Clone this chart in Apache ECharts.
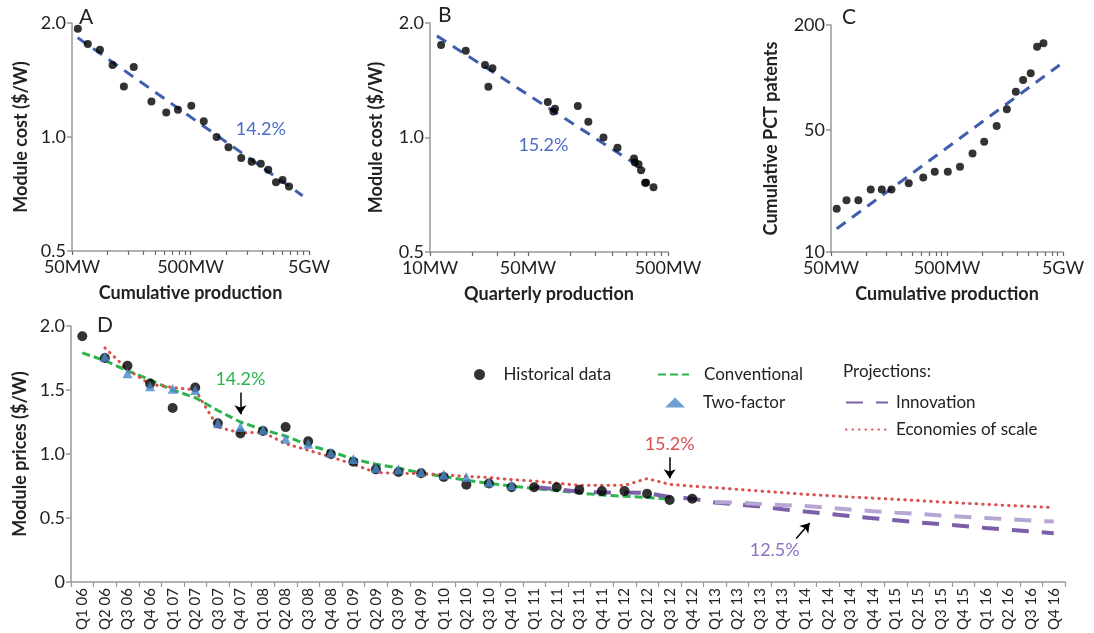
<!DOCTYPE html>
<html>
<head>
<meta charset="utf-8">
<script src="https://cdn.jsdelivr.net/npm/echarts@6/dist/echarts.min.js"></script>
<style>
  html, body { margin: 0; padding: 0; background: #fff; }
  #chart { width: 1094px; height: 633px; }
</style>
</head>
<body>
<div id="chart"></div>
<script>
// panel A / C : cumulative production (MW)
var cumProd = [56, 68, 86, 110, 137, 166, 234, 312, 392, 508, 647, 830, 1046, 1340, 1640, 1960, 2265, 2634, 2990, 3390];
var cumCost = [1.93, 1.76, 1.70, 1.55, 1.36, 1.53, 1.24, 1.16, 1.18, 1.21, 1.10, 1.00, 0.94, 0.88, 0.86, 0.85, 0.82, 0.76, 0.77, 0.74];
var cumPatents = [17.7, 19.8, 19.8, 22.8, 22.8, 22.8, 24.8, 26.7, 28.8, 28.8, 30.8, 36.7, 42.8, 52.7, 65.7, 82.9, 96.7, 105.7, 150, 157];
var fitA = [[55.7, 1.83], [4415, 0.70]];
var fitC = [[56, 13.6], [4677, 118]];

// panel B : quarterly production (MW)
var qtrProd = [12.0, 18.0, 24.7, 26.1, 27.9, 69.3, 76, 78, 113.5, 135, 173, 218, 286, 290, 308, 321, 343, 349, 394];
var qtrCost = [1.75, 1.69, 1.55, 1.36, 1.52, 1.24, 1.17, 1.19, 1.21, 1.10, 1.00, 0.94, 0.88, 0.86, 0.85, 0.82, 0.76, 0.76, 0.74];
var fitB = [[11.2, 1.85], [343, 0.82]];

// axis ticks
var mwMajor = [50, 500, 5000];
var mwMinor = [50, 100, 150, 200, 250, 300, 350, 400, 450, 500, 1000, 1500, 2000, 2500, 3000, 3500, 4000, 4500, 5000];
var qMajor = [10, 50, 500];
var qMinor = [10, 20, 30, 40, 50, 100, 150, 200, 250, 300, 350, 400, 450, 500];
var costTicks = [0.5, 1, 2];
var patentTicks = [10, 50, 200];

// panel D
var quarters = ['Q1 06','Q2 06','Q3 06','Q4 06','Q1 07','Q2 07','Q3 07','Q4 07','Q1 08','Q2 08','Q3 08','Q4 08',
  'Q1 09','Q2 09','Q3 09','Q4 09','Q1 10','Q2 10','Q3 10','Q4 10','Q1 11','Q2 11','Q3 11','Q4 11',
  'Q1 12','Q2 12','Q3 12','Q4 12','Q1 13','Q2 13','Q3 13','Q4 13','Q1 14','Q2 14','Q3 14','Q4 14',
  'Q1 15','Q2 15','Q3 15','Q4 15','Q1 16','Q2 16','Q3 16','Q4 16'];
var historical = [1.92, 1.75, 1.69, 1.55, 1.36, 1.52, 1.24, 1.16, 1.18, 1.21, 1.10, 1.00, 0.94, 0.88,
  0.86, 0.85, 0.82, 0.76, 0.77, 0.74, 0.74, 0.74, 0.72, 0.71, 0.71, 0.69, 0.64, 0.65];
var twoFactor = [null, 1.76, 1.63, 1.53, 1.51, 1.50, 1.24, 1.21, 1.19, 1.12, 1.08, 1.01, 0.96, 0.89,
  0.88, 0.86, 0.84, 0.82, 0.78, 0.755];
var conventional = [1.79, 1.73, 1.65, 1.58, 1.50, 1.44, 1.34, 1.25, 1.19, 1.14, 1.07, 1.02, 0.96, 0.92,
  0.89, 0.85, 0.825, 0.795, 0.77, 0.75, 0.73, 0.715, 0.695, 0.68, 0.67, 0.66, 0.648];
var economies = [null, 1.83, 1.66, 1.545, 1.52, 1.50, 1.21, 1.165, 1.17, 1.08, 1.03, 0.977, 0.92, 0.855,
  0.85, 0.846, 0.838, 0.825, 0.816, 0.80, 0.789, 0.772, 0.755, 0.755, 0.755, 0.808, 0.763, 0.748,
  0.737, 0.724, 0.711, 0.698, 0.685, 0.675, 0.664, 0.655, 0.646, 0.636, 0.625, 0.616, 0.607, 0.598, 0.590, 0.581];
var innovStart = 20; // Q1 11
var innovation = [0.742, 0.725, 0.706, 0.700, 0.700, 0.695, 0.665, 0.651, 0.621, 0.606, 0.589, 0.568,
  0.550, 0.533, 0.514, 0.498, 0.482, 0.466, 0.452, 0.438, 0.422, 0.408, 0.395, 0.381];
var innovHighStart = 28; // Q1 13
var innovationHigh = [0.625, 0.620, 0.610, 0.601, 0.593, 0.580, 0.566, 0.553, 0.542, 0.532, 0.520,
  0.509, 0.500, 0.490, 0.480, 0.472];

var FONT = 'Lato';
var TXT = '#222';
var AXIS = '#999';
var BLUE = '#3f5fae';
var GREEN = '#2cb44c';
var RED = '#d9504f';
var PURPLE = '#7c5ea9';

function zip(xs, ys) {
  return xs.map(function (x, i) { return [x, ys[i]]; });
}
function fromQuarter(start, vals) {
  return vals.map(function (v, i) { return [quarters[start + i], v]; });
}
function mwLabel(v) {
  return v >= 1000 ? Math.round(v / 1000) + 'GW' : Math.round(v) + 'MW';
}

function logX(grid, major, minor, name) {
  return {
    type: 'log', logBase: 10, gridIndex: grid,
    min: major[0], max: major[major.length - 1],
    name: name, nameLocation: 'middle', nameGap: 33,
    nameTextStyle: { fontFamily: FONT, fontWeight: 'bold', fontSize: 18, color: TXT },
    axisLine: { lineStyle: { color: AXIS, width: 1.5 } },
    axisTick: { customValues: minor, length: 4, lineStyle: { color: '#666', width: 1.2 } },
    minorTick: { show: false },
    axisLabel: { customValues: major, formatter: mwLabel, fontFamily: FONT, fontSize: 18, color: TXT, margin: 7 },
    splitLine: { show: false }
  };
}
function logY(grid, base, ticks, name, gap, fmt) {
  return {
    type: 'log', logBase: base, gridIndex: grid,
    min: ticks[0], max: ticks[ticks.length - 1],
    name: name, nameLocation: 'middle', nameGap: gap,
    nameTextStyle: { fontFamily: FONT, fontWeight: 'bold', fontSize: 18, color: TXT },
    axisLine: { show: true, lineStyle: { color: AXIS, width: 1.5 } },
    axisTick: { show: true, customValues: ticks, length: 5, lineStyle: { color: AXIS, width: 1.5 } },
    axisLabel: { customValues: ticks, formatter: fmt, fontFamily: FONT, fontSize: 18, color: TXT, margin: 6 },
    splitLine: { show: false }
  };
}
function costFmt(v) { return v.toFixed(1); }
function intFmt(v) { return String(Math.round(v)); }

function dots(xi, yi, data) {
  return {
    type: 'scatter', xAxisIndex: xi, yAxisIndex: yi, data: data,
    symbol: 'circle', symbolSize: 8, itemStyle: { color: '#000' }, z: 3
  };
}
function fit(xi, yi, data, label, lx, ly) {
  var s = {
    type: 'line', xAxisIndex: xi, yAxisIndex: yi, data: data, showSymbol: false, symbol: 'none',
    lineStyle: { color: BLUE, width: 3, type: [11, 8] }, z: 2
  };
  if (label) {
    s.markPoint = {
      symbol: 'circle', symbolSize: 1, itemStyle: { color: 'transparent' },
      label: { show: true, position: 'inside', formatter: label, fontFamily: FONT, fontSize: 18, color: '#4a6cc4' },
      data: [{ coord: [lx, ly] }]
    };
  }
  return s;
}

function arrowLabel(text, color) {
  return { show: true, position: 'start', formatter: text, color: color,
    fontFamily: FONT, fontSize: 18, distance: 4 };
}
function arrow(x1, y1, x2, y2, text, color) {
  return [{ coord: [x1, y1], label: arrowLabel(text, color) }, { coord: [x2, y2] }];
}

// legend entries for lines: show only the dashed line, not a symbol
function lineEntry(name) {
  return { name: name, itemStyle: { opacity: 0 } };
}
var legendText = function (pad) {
  return { fontFamily: FONT, fontSize: 17, color: TXT, padding: [0, 0, 0, pad] };
};

var myChart = echarts.init(document.getElementById('chart'));

var option = {
  animation: false,
  backgroundColor: '#fff',
  textStyle: { fontFamily: FONT },
  grid: [
    { left: 72, top: 23, width: 237, height: 228 },
    { left: 430, top: 23, width: 238, height: 229 },
    { left: 831, top: 25, width: 232, height: 227 },
    { left: 71, top: 326, width: 994, height: 256 }
  ],
  xAxis: [
    logX(0, mwMajor, mwMinor, 'Cumulative production'),
    logX(1, qMajor, qMinor, 'Quarterly production'),
    logX(2, mwMajor, mwMinor, 'Cumulative production'),
    {
      type: 'category', gridIndex: 3, data: quarters, boundaryGap: true,
      axisLine: { lineStyle: { color: AXIS, width: 1.5 } },
      axisTick: { show: true, length: 5, lineStyle: { color: AXIS, width: 1.2 } },
      axisLabel: { rotate: 90, interval: 0, fontFamily: FONT, fontSize: 15, color: TXT, margin: 6 },
      splitLine: { show: false }
    }
  ],
  yAxis: [
    logY(0, 2, costTicks, 'Module cost ($/W)', 42, costFmt),
    logY(1, 2, costTicks, 'Module cost ($/W)', 45, costFmt),
    logY(2, 10, patentTicks, 'Cumulative PCT patents', 51, intFmt),
    {
      type: 'value', gridIndex: 3, min: 0, max: 2, interval: 0.5,
      name: 'Module prices ($/W)', nameLocation: 'middle', nameGap: 40,
      nameTextStyle: { fontFamily: FONT, fontWeight: 'bold', fontSize: 18, color: TXT },
      axisLine: { show: true, lineStyle: { color: AXIS, width: 1.5 } },
      axisTick: { show: true, length: 5, lineStyle: { color: AXIS, width: 1.5 } },
      axisLabel: { formatter: function (v) { return v === 0 ? '0' : v.toFixed(1); },
        fontFamily: FONT, fontSize: 18, color: TXT, margin: 6 },
      splitLine: { show: false }
    }
  ],
  legend: [
    { data: ['Historical data'], left: 474, top: 366, padding: 0, itemWidth: 20, itemHeight: 11,
      textStyle: legendText(9) },
    { data: [lineEntry('Conventional')], left: 657, top: 366, padding: 0, itemWidth: 31, itemHeight: 14,
      textStyle: legendText(10) },
    { data: ['Two-factor'], left: 665, top: 394, padding: 0, itemWidth: 20, itemHeight: 10,
      textStyle: legendText(13) },
    { data: [lineEntry('Innovation'), lineEntry('Economies of scale')], orient: 'vertical',
      left: 845, top: 394, padding: 0, itemWidth: 42, itemHeight: 14, itemGap: 10,
      textStyle: legendText(3) }
  ],
  graphic: [
    { type: 'text', left: 79, top: 7, style: { text: 'A', font: '21px Lato', fill: TXT } },
    { type: 'text', left: 438, top: 5, style: { text: 'B', font: '21px Lato', fill: TXT } },
    { type: 'text', left: 842, top: 7, style: { text: 'C', font: '21px Lato', fill: TXT } },
    { type: 'text', left: 97, top: 315, style: { text: 'D', font: '21px Lato', fill: TXT } },
    { type: 'text', left: 843, top: 363, style: { text: 'Projections:', font: '17px Lato', fill: TXT } }
  ],
  series: [
    // A
    fit(0, 0, fitA, '14.2%', 1960, 1.05),
    dots(0, 0, zip(cumProd, cumCost)),
    // B
    fit(1, 1, fitB, '15.2%', 64.5, 0.955),
    dots(1, 1, zip(qtrProd, qtrCost)),
    // C
    fit(2, 2, fitC),
    dots(2, 2, zip(cumProd, cumPatents)),
    // D
    {
      name: 'Conventional', type: 'line', xAxisIndex: 3, yAxisIndex: 3, data: conventional,
      symbol: 'none', showSymbol: false,
      itemStyle: { color: GREEN },
      lineStyle: { color: GREEN, width: 3, type: [8, 4] }, z: 2
    },
    {
      name: 'Innovation', type: 'line', xAxisIndex: 3, yAxisIndex: 3, data: fromQuarter(innovStart, innovation),
      symbol: 'none', showSymbol: false,
      itemStyle: { color: PURPLE },
      lineStyle: { color: PURPLE, width: 4, type: [17, 13] }, z: 2
    },
    {
      name: 'Innovation (upper)', type: 'line', xAxisIndex: 3, yAxisIndex: 3,
      data: fromQuarter(innovHighStart, innovationHigh),
      symbol: 'none', showSymbol: false,
      lineStyle: { color: '#b7a5d4', width: 4, type: [17, 13] }, z: 2
    },
    {
      name: 'Economies of scale', type: 'line', xAxisIndex: 3, yAxisIndex: 3, data: economies,
      symbol: 'none', showSymbol: false,
      itemStyle: { color: RED },
      lineStyle: { color: RED, width: 3, type: [0.5, 6], cap: 'round' }, z: 2
    },
    {
      id: 'hist', name: 'Historical data', type: 'scatter', xAxisIndex: 3, yAxisIndex: 3, data: historical,
      symbol: 'circle', symbolSize: 10, itemStyle: { color: '#000' }, z: 3,
      markLine: {
        silent: true, symbol: ['none', 'arrow'], symbolSize: 9,
        lineStyle: { color: '#000', width: 1.5, type: 'solid' },
        data: [
          arrow('Q4 07', 1.48, 'Q4 07', 1.31, '14.2%', GREEN),
          arrow('Q3 12', 0.975, 'Q3 12', 0.81, '15.2%', RED)
        ]
      }
    },
    {
      name: 'Two-factor', type: 'scatter', xAxisIndex: 3, yAxisIndex: 3, data: twoFactor,
      symbol: 'triangle', symbolSize: 10, itemStyle: { color: '#4a87c9' }, z: 4
    }
  ]
};

myChart.setOption(option);

// slanted 12.5% arrow sits between two quarters: place it from the axis scale
function between(i, frac, v) {
  var a = myChart.convertToPixel({ xAxisIndex: 3, yAxisIndex: 3 }, [i, v]);
  var b = myChart.convertToPixel({ xAxisIndex: 3, yAxisIndex: 3 }, [i + 1, v]);
  return { x: a[0] + (b[0] - a[0]) * frac, y: a[1] };
}
var s = between(31, 0.6, 0.34);
var e = between(32, 0.2, 0.46);
var t = between(30, 0.65, 0.25);
myChart.setOption({
  series: [{
    id: 'hist',
    markLine: {
      data: [
        arrow('Q4 07', 1.48, 'Q4 07', 1.31, '14.2%', GREEN),
        arrow('Q3 12', 0.975, 'Q3 12', 0.81, '15.2%', RED),
        [{ x: s.x, y: s.y, label: { show: false } }, { x: e.x, y: e.y }]
      ]
    },
    markPoint: {
      symbol: 'circle', symbolSize: 1, itemStyle: { color: 'transparent' },
      label: { show: true, position: 'inside', formatter: '12.5%', fontFamily: FONT, fontSize: 18, color: '#8c72c2' },
      data: [{ x: t.x, y: t.y }]
    }
  }]
});
</script>
</body>
</html>
